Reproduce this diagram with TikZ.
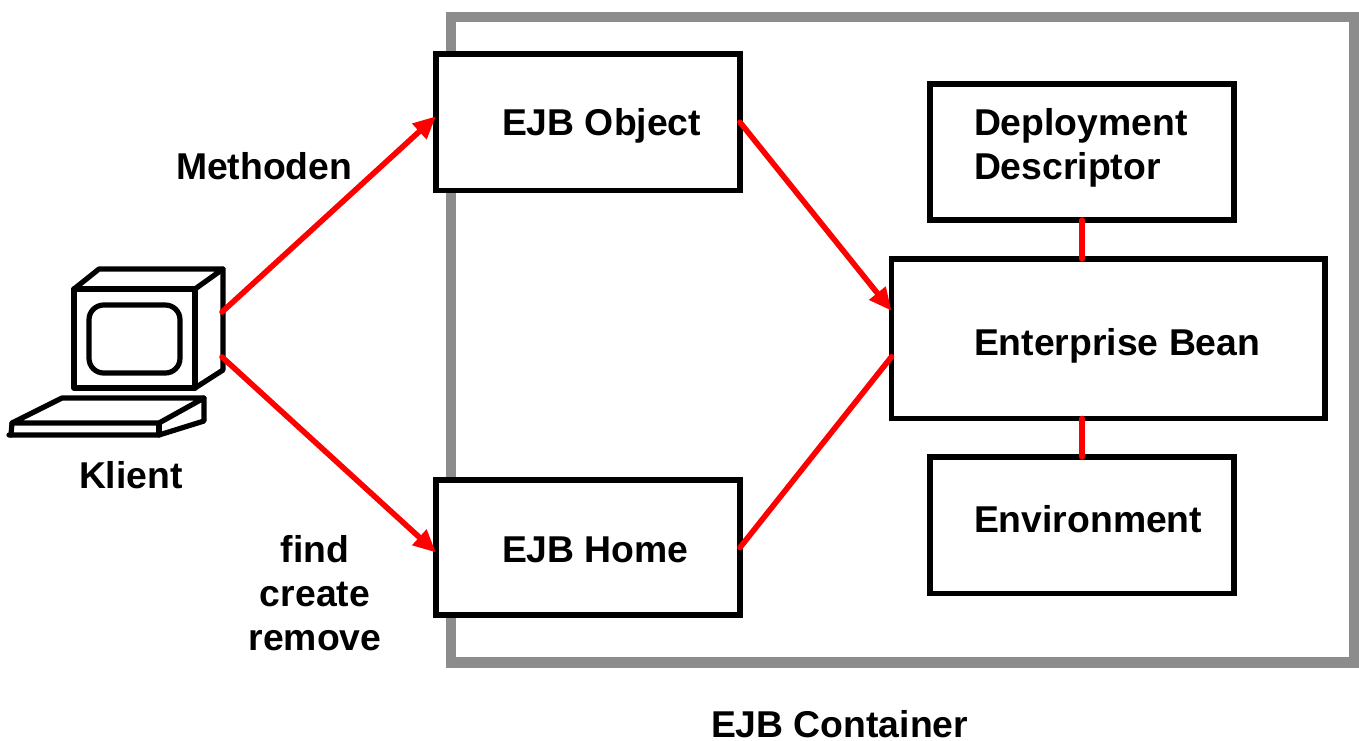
\documentclass[tikz,border=0pt]{standalone}
\usepackage{fontspec}
\setmainfont{Liberation Sans}
\usetikzlibrary{arrows.meta}
\tikzset{
  x=0.75pt,y=-0.75pt,
  box/.style={draw=black,fill=white,line width=4.2pt,minimum height=0pt,inner sep=0pt,outer sep=0pt,rectangle,miter limit=10},
  lbl/.style={font=\bfseries\fontsize{28}{33}\selectfont,inner sep=0pt,outer sep=0pt,text=black},
  link/.style={draw=red,line width=4.2pt,line cap=round},
  arrowlink/.style={link,-{Triangle[length=17pt,width=15pt]}},
  pc/.style={draw=black,line width=3.9pt,line join=round,line cap=round}
}
\newcommand{\mkbox}[5]{\node[box,minimum width={(#4-#2)*0.75pt},minimum height={(#5-#3)*0.75pt}] (#1) at ({(#2+#4)/2},{(#3+#5)/2}) {};}
\begin{document}
\begin{tikzpicture}
\useasboundingbox (0,0) rectangle (1359,740);
% container
\begin{scope}
\clip (0,0) rectangle (1359,740);
\node[draw={rgb,255:red,140;green,140;blue,140},line width=7.7pt,rectangle,inner sep=0pt,outer sep=0pt,minimum width={(1354.5-451)*0.75pt},minimum height={(662.5-17)*0.75pt}] (container) at ({(451+1354.5)/2},{(17+662.5)/2}) {};
\end{scope}
% boxes
\mkbox{obj}{436}{54}{740}{190.5}
\mkbox{home}{436}{480}{740}{615}
\mkbox{depl}{930}{84}{1234}{220}
\mkbox{bean}{891.5}{259}{1325}{418.5}
\mkbox{env}{930}{457}{1234}{593.5}
% computer
\coordinate (pc1) at (222,312);
\coordinate (pc2) at (222,357);
\draw[pc] (74,289) rectangle (195,388);
\draw[pc] (74,289) -- (99,269) -- (223,269) -- (195,289);
\draw[pc] (223,269) -- (223,370) -- (195,388);
\draw[pc,rounded corners=11pt] (89,305) rectangle (180,373);
\draw[pc] (12,423) -- (62,398) -- (204,398) -- (159,423) -- cycle;
\draw[pc] (204,398) -- (204,421) -- (159,435) -- (9,435);
\draw[pc] (12,423) -- (11,435);
\draw[pc] (159,423) -- (159,435);
% connectors
\draw[arrowlink] (pc1) -- ([shift={(0,-6)}]obj.west);
\draw[arrowlink] (pc2) -- ([shift={(0,5)}]home.west);
\draw[arrowlink] (obj.east) -- ([shift={(0,-28)}]bean.west);
\draw[link] (home.east) -- ([shift={(0,18)}]bean.west);
\draw[link] (depl.south) -- (depl.south |- bean.north);
\draw[link] (env.north) -- (env.north |- bean.south);
% labels
\node[lbl,anchor=base west] (tobj) at (502,135) {EJB Object};
\node[lbl,anchor=base west] (thome) at (502,562) {EJB Home};
\node[lbl,anchor=west,align=left] (tdepl) at (974,148) {Deployment\\Descriptor};
\node[lbl,anchor=base west] (tbean) at (974,355) {Enterprise Bean};
\node[lbl,anchor=base west] (tenv) at (974,532) {Environment};
\node[lbl,anchor=base west] (tmeth) at (176,179) {Methoden};
\node[lbl,anchor=base west] (tklient) at (79,488) {Klient};
\node[lbl,align=center] (tfind) at (315,593) {find\\create\\remove};
\node[lbl,anchor=base west] (tcont) at (711,737) {EJB Container};
\end{tikzpicture}
\end{document}
